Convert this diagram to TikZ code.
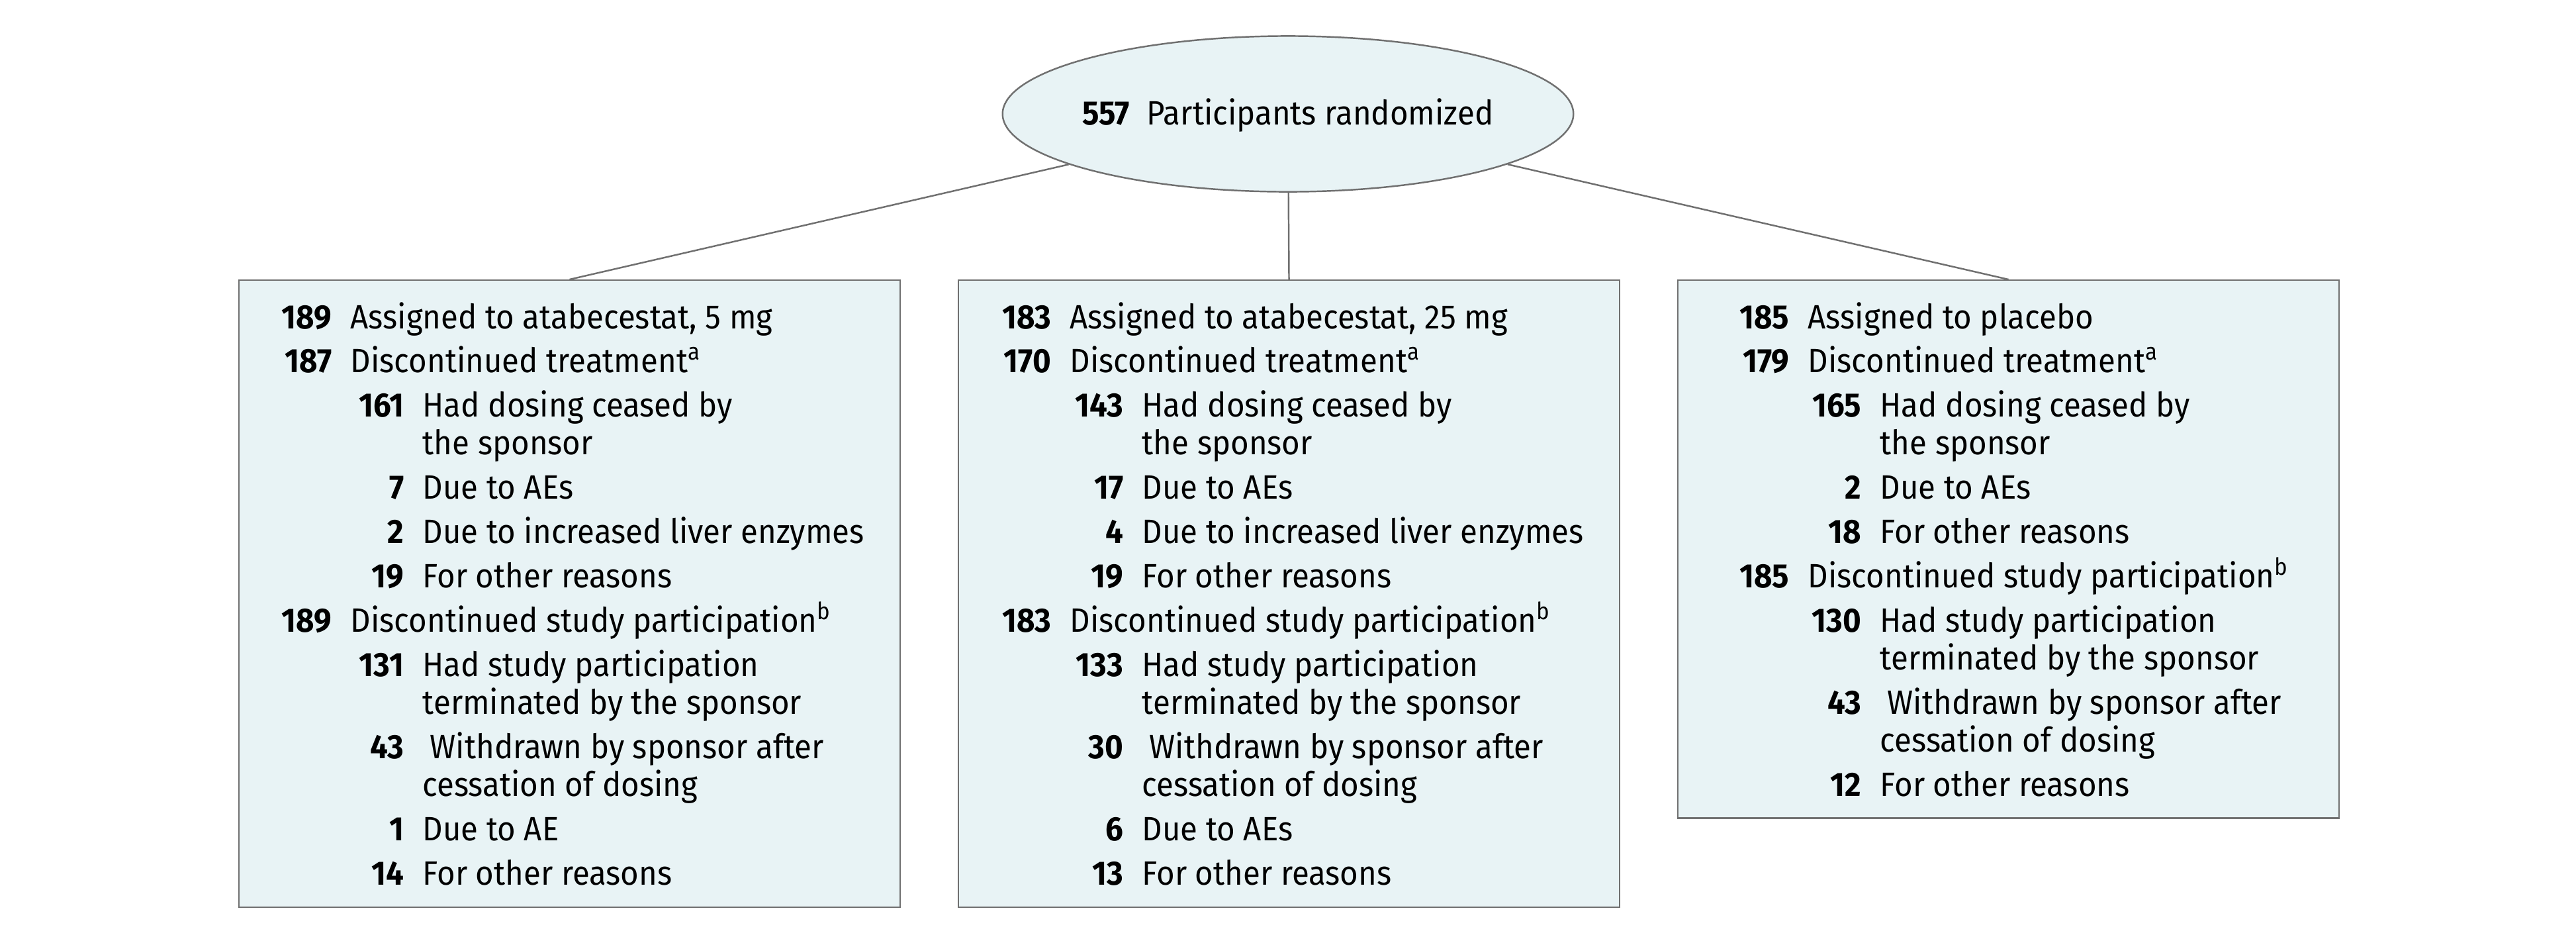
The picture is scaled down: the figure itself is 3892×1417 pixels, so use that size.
\documentclass[tikz,border=0pt]{standalone}
\usepackage{fontspec}
\setmainfont[FakeStretch=0.93]{Fira Sans}
\usetikzlibrary{shapes.geometric}

\definecolor{panelfill}{RGB}{232,243,245}
\definecolor{panelline}{RGB}{112,112,112}

\tikzset{
  panel/.style={draw=panelline, fill=panelfill, line width=0.7pt, rectangle,
    anchor=north west, minimum width=9.98cm, inner sep=0pt},
  randnode/.style={draw=panelline, fill=panelfill, line width=0.7pt, ellipse,
    minimum width=8.62cm, minimum height=2.35cm, inner sep=0pt},
  numtxt/.style={anchor=base east, inner sep=0pt, font=\fontsize{14.5}{17}\selectfont\bfseries},
  rowtxt/.style={anchor=base west, inner sep=0pt, font=\fontsize{14.5}{17}\selectfont},
  conn/.style={draw=panelline, line width=0.7pt}
}

\begin{document}
\begin{tikzpicture}[x=0.01cm, y=-0.01cm]
  \useasboundingbox (0,0) rectangle (3892,1417);

  \node[randnode] (rand) at (1946,172) {};
  \node[rowtxt, anchor=base] (randlbl) at (1946,188) {\textbf{557}\hspace{0.26cm}Participants randomized};

  % atabecestat 5 mg
  \begin{scope}[shift={(360,0)}]
    \node[panel, minimum height=9.46cm] (arm5) at (0,422) {};
    \foreach \lv/\yy/\nn/\lbl [count=\i] in {
      0/496/189/{Assigned to atabecestat, 5 mg},
      0/562/187/{Discontinued treatment\textsuperscript{a}},
      1/629/161/{Had dosing ceased by},
      1/686//{the sponsor},
      1/753/7/{Due to AEs},
      1/820/2/{Due to increased liver enzymes},
      1/887/19/{For other reasons},
      0/954/189/{Discontinued study participation\textsuperscript{b}},
      1/1021/131/{Had study participation},
      1/1078//{terminated by the sponsor},
      1/1145/43/{\hspace{0.11cm}Withdrawn by sponsor after},
      1/1202//{cessation of dosing},
      1/1269/1/{Due to AE},
      1/1336/14/{For other reasons}}{
      \pgfmathsetmacro\nx{142+109*\lv}
      \node[numtxt] (arm5n\i) at (\nx,\yy) {\nn};
      \node[rowtxt] (arm5t\i) at (\nx+27,\yy) {\lbl};
    }
  \end{scope}

  % atabecestat 25 mg
  \begin{scope}[shift={(1447,0)}]
    \node[panel, minimum height=9.46cm] (arm25) at (0,422) {};
    \foreach \lv/\yy/\nn/\lbl [count=\i] in {
      0/496/183/{Assigned to atabecestat, 25 mg},
      0/562/170/{Discontinued treatment\textsuperscript{a}},
      1/629/143/{Had dosing ceased by},
      1/686//{the sponsor},
      1/753/17/{Due to AEs},
      1/820/4/{Due to increased liver enzymes},
      1/887/19/{For other reasons},
      0/954/183/{Discontinued study participation\textsuperscript{b}},
      1/1021/133/{Had study participation},
      1/1078//{terminated by the sponsor},
      1/1145/30/{\hspace{0.11cm}Withdrawn by sponsor after},
      1/1202//{cessation of dosing},
      1/1269/6/{Due to AEs},
      1/1336/13/{For other reasons}}{
      \pgfmathsetmacro\nx{142+109*\lv}
      \node[numtxt] (arm25n\i) at (\nx,\yy) {\nn};
      \node[rowtxt] (arm25t\i) at (\nx+27,\yy) {\lbl};
    }
  \end{scope}

  % placebo
  \begin{scope}[shift={(2534,0)}]
    \node[panel, minimum height=8.12cm] (armpl) at (0,422) {};
    \foreach \lv/\yy/\nn/\lbl [count=\i] in {
      0/496/185/{Assigned to placebo},
      0/562/179/{Discontinued treatment\textsuperscript{a}},
      1/629/165/{Had dosing ceased by},
      1/686//{the sponsor},
      1/753/2/{Due to AEs},
      1/820/18/{For other reasons},
      0/887/185/{Discontinued study participation\textsuperscript{b}},
      1/954/130/{Had study participation},
      1/1011//{terminated by the sponsor},
      1/1078/43/{\hspace{0.11cm}Withdrawn by sponsor after},
      1/1135//{cessation of dosing},
      1/1202/12/{For other reasons}}{
      \pgfmathsetmacro\nx{170+109*\lv}
      \node[numtxt] (armpln\i) at (\nx,\yy) {\nn};
      \node[rowtxt] (armplt\i) at (\nx+27,\yy) {\lbl};
    }
  \end{scope}

  \draw[conn] (rand) -- (arm5.north);
  \draw[conn] (rand) -- (arm25.north);
  \draw[conn] (rand) -- (armpl.north);
\end{tikzpicture}
\end{document}
